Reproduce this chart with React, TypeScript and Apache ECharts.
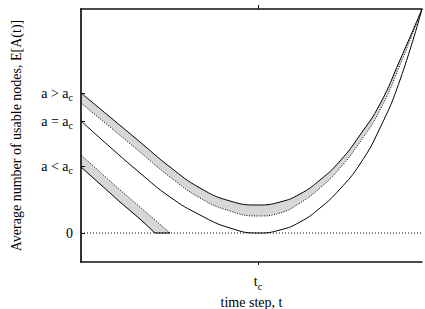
import React, { useEffect, useRef } from 'react';
import * as echarts from 'echarts';

// x in time-step units (t_c = 177), y = E[A(t)] (0 at the dotted zero line)
const upperX = [0, 29, 59, 89, 119, 149, 177, 199, 219, 239, 259, 279, 299, 319, 341];
const upperSolid = [140, 116, 91, 66, 45, 32, 28, 31, 39, 53, 72, 98, 129, 173, 224];
const upperDotted = [130, 106, 81, 56, 35, 22, 17, 20, 30, 45, 65, 91, 123, 168, 224];
const criticalCurve = [112, 86, 60, 36, 18, 5, 0, 3, 11, 25, 44, 69, 105, 153, 224];
const lowerX = [0, 19, 39, 59, 74, 89];
const lowerSolid = [66, 49, 31, 14, 0, 0];
const lowerDotted = [78, 61, 43, 26, 13, 0];
const zeroLineX = [0, 341];

const yTickValues = [0, 67, 112, 140];
const yTickLabels = ['{m|0}', '{m|a < a}{s|c}', '{m|a = a}{s|c}', '{m|a > a}{s|c}'];
const xTickValues = [177];
const xTickLabels = ['{m|t}{s|c}'];

const SERIF = 'Liberation Serif';

const rich = {
  m: { fontSize: 14, fontFamily: SERIF, color: '#000' },
  s: { fontSize: 10, fontFamily: SERIF, color: '#000', lineHeight: 19, verticalAlign: 'bottom' as const },
};

const zip = (xs: number[], ys: number[]) => xs.map((x, i) => [x, ys[i]]);

export default function App() {
  const ref = useRef<HTMLDivElement>(null);
  useEffect(() => {
    const chart = echarts.init(ref.current!, null, { renderer: 'svg' });
    const noLine = { opacity: 0, width: 0 };
    const fill = (xs: number[], ys: number[], color: string, smooth: boolean) => ({
      type: 'line',
      data: zip(xs, ys),
      smooth,
      symbol: 'none',
      lineStyle: noLine,
      areaStyle: { color, opacity: 1, origin: 'start' },
      z: -1,
      silent: true,
    });
    const curve = (xs: number[], ys: number[], smooth: boolean, type: any) => ({
      type: 'line',
      data: zip(xs, ys),
      smooth,
      symbol: 'none',
      lineStyle: { color: '#000', width: 1, type },
      z: 3,
    });
    const option: any = {
      animation: false,
      backgroundColor: '#fff',
      grid: { left: 81, right: 3, top: 9, bottom: 47, containLabel: false, outerBoundsMode: 'none' },
      xAxis: [
        {
          type: 'value',
          min: 0,
          max: 341,
          position: 'bottom',
          name: 'time step, t',
          nameLocation: 'middle',
          nameGap: 30,
          nameTextStyle: { fontSize: 14, fontFamily: SERIF, color: '#000' },
          axisLine: { onZero: false, lineStyle: { color: '#111', width: 1.5 } },
          axisTick: { customValues: xTickValues, length: 3, lineStyle: { color: '#111' } },
          axisLabel: {
            customValues: xTickValues,
            margin: 10,
            formatter: (v: number) => xTickLabels[xTickValues.indexOf(v)] ?? '',
            rich,
          },
          splitLine: { show: false },
        },
        {
          type: 'value',
          min: 0,
          max: 341,
          position: 'top',
          axisLine: { onZero: false, lineStyle: { color: '#111', width: 1.5 } },
          axisTick: { customValues: xTickValues, length: 4, lineStyle: { color: '#111' } },
          axisLabel: { show: false },
          splitLine: { show: false },
        },
      ],
      yAxis: {
        type: 'value',
        min: -29,
        max: 224,
        name: 'Average number of usable nodes, E[A(t)]',
        nameLocation: 'middle',
        nameGap: 58,
        nameTextStyle: { fontSize: 14, fontFamily: SERIF, color: '#000' },
        axisLine: { show: true, onZero: false, lineStyle: { color: '#333', width: 2 } },
        axisTick: { customValues: yTickValues, inside: true, length: 4, lineStyle: { color: '#111' } },
        axisLabel: {
          customValues: yTickValues,
          margin: 8,
          formatter: (v: number) => yTickLabels[yTickValues.indexOf(v)] ?? '',
          rich,
        },
        splitLine: { show: false },
      },
      series: [
        fill(upperX, upperSolid, '#d7d7d7', true),
        fill(upperX, upperDotted, '#ffffff', true),
        fill(lowerX, lowerDotted, '#d7d7d7', false),
        fill(lowerX, lowerSolid, '#ffffff', false),
        {
          type: 'line', data: zip(zeroLineX, [0, 0]), symbol: 'none',
          lineStyle: { color: '#000', width: 1, type: [1, 2] }, z: 2,
        },
        curve(upperX, upperSolid, true, 'solid'),
        curve(upperX, upperDotted, true, [1, 1.5]),
        curve(upperX, criticalCurve, true, 'solid'),
        curve(lowerX, lowerSolid, false, 'solid'),
        curve(lowerX, lowerDotted, false, [1, 1.5]),
      ],
    };
    chart.setOption(option);
    return () => chart.dispose();
  }, []);
  return (
    <div
      ref={ref}
      style={{ position: 'fixed', left: 0, top: 0, width: 425, height: 309, background: '#fff' }}
    />
  );
}
